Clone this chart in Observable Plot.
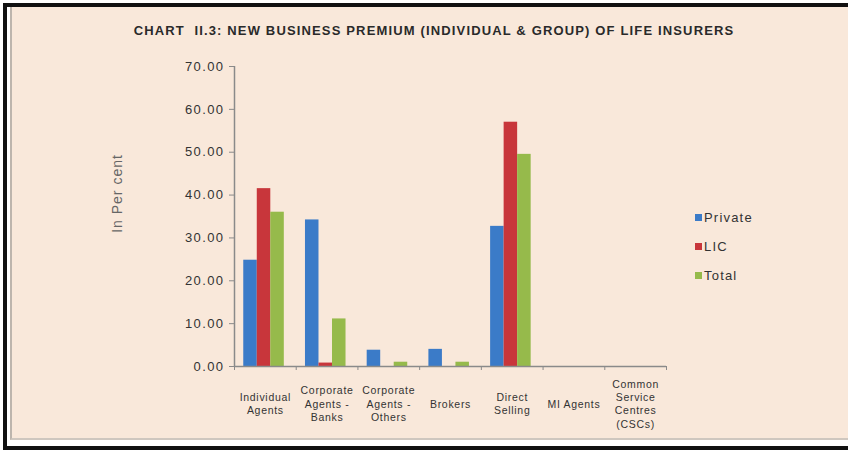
<!DOCTYPE html>
<html>
<head>
<meta charset="utf-8">
<script src="https://cdn.jsdelivr.net/npm/d3@7"></script>
<script src="https://cdn.jsdelivr.net/npm/@observablehq/plot@0.6"></script>
<style>
  html, body { margin: 0; padding: 0; background: #fff; }
  #wrap { position: relative; width: 848px; height: 452px; overflow: hidden; background: #fff;
          font-family: "Liberation Sans", Arial, sans-serif; }
  #frame { position: absolute; left: 3px; top: 3px; width: 870px; height: 439px;
           border: 4px solid #111; border-right: none; }
  #panel { position: absolute; left: 10px; top: 7px; width: 860px; height: 431px;
           background: #f9e8da; border-left: 2px solid #bdb5ad; border-bottom: 2px solid #cfc7bf; }
  #title { position: absolute; left: 0; top: 23px; width: 868px; text-align: center;
           font-weight: bold; font-size: 13px; line-height: 16px; color: #2a2a2a; letter-spacing: 1.15px; }
  #chart { position: absolute; left: 0; top: 0; }
  #legend { position: absolute; left: 695px; top: 203px; font-size: 13px; color: #333; letter-spacing: 1.2px; }
  #legend .item { display: flex; align-items: center; height: 29px; margin-top: 0; }
  #legend .sw { width: 7px; height: 7px; margin-right: 2px; }
  .ticklab text { letter-spacing: 1.4px; }
  .catlab text { letter-spacing: 0.7px; }
  .ylabel text { letter-spacing: 1px; }
</style>
</head>
<body>
<div id="wrap">
  <div id="frame"></div>
  <div id="panel"></div>
  <div id="title">CHART&nbsp; II.3: NEW BUSINESS PREMIUM (INDIVIDUAL &amp; GROUP) OF LIFE INSURERS</div>
  <div id="chart"></div>
  <div id="legend"></div>
</div>
<script>
// ---- data ----
const categories = [
  "Individual Agents",
  "Corporate Agents - Banks",
  "Corporate Agents - Others",
  "Brokers",
  "Direct Selling",
  "MI Agents",
  "Common Service Centres (CSCs)"
];
const categoryLabels = [
  "Individual\nAgents",
  "Corporate\nAgents -\nBanks",
  "Corporate\nAgents -\nOthers",
  "Brokers",
  "Direct\nSelling",
  "MI Agents",
  "Common\nService\nCentres\n(CSCs)"
];
const seriesNames = ["Private", "LIC", "Total"];
const privateShare = [24.8, 34.2, 3.8, 4.0, 32.7, 0, 0];
const licShare     = [41.5, 0.8, 0, 0, 57.0, 0, 0];
const totalShare   = [36.0, 11.1, 1.0, 1.0, 49.5, 0, 0];
const yTicks = [0, 10, 20, 30, 40, 50, 60, 70];
const seriesColors = ["#3b7bc8", "#c8363b", "#96ba4b"];

// ---- table ----
const seriesValues = [privateShare, licShare, totalShare];
const rows = [];
categories.forEach((c, ci) => {
  seriesNames.forEach((s, si) => {
    rows.push({category: c, ci, series: s, si, value: seriesValues[si][ci]});
  });
});

// group layout within each category slot (in category units)
const groupStart = 0.15, barSlot = 0.219;

const chart = Plot.plot({
  width: 848,
  height: 452,
  marginLeft: 234,
  marginRight: 182,
  marginTop: 66,
  marginBottom: 86,
  style: {background: "transparent", fontFamily: "'Liberation Sans', Arial, sans-serif"},
  x: {domain: [0, categories.length]},
  y: {domain: [0, 70]},
  color: {domain: seriesNames, range: seriesColors},
  marks: [
    Plot.rectY(rows, {
      x1: d => d.ci + groupStart + d.si * barSlot,
      x2: d => d.ci + groupStart + (d.si + 1) * barSlot,
      y1: 0,
      y2: "value",
      fill: "series"
    }),
    Plot.axisY({ticks: yTicks, tickSize: 5, tickFormat: () => "", label: null, stroke: "#8a8a8a"}),
    Plot.axisY({ticks: yTicks, tickSize: 0, tickPadding: 10, tickFormat: d3.format(".2f"), label: null,
                fontSize: 13, fill: "#333", className: "ticklab"}),
    Plot.axisX({ticks: d3.range(categories.length + 1), tickSize: 4, tickFormat: () => "", label: null, stroke: "#8a8a8a"}),
    Plot.ruleX([0], {y1: 0, y2: 70, stroke: "#8a8a8a", strokeWidth: 1.5}),
    Plot.ruleY([0], {x1: 0, x2: categories.length, stroke: "#8a8a8a", strokeWidth: 1.5}),
    Plot.text(categories, {
      x: (d, i) => i + 0.5,
      frameAnchor: "bottom",
      lineAnchor: "middle",
      dy: 37,
      text: (d, i) => categoryLabels[i],
      fontSize: 10.5,
      lineHeight: 1.27,
      fill: "#333",
      className: "catlab"
    }),
    Plot.text(["In Per cent"], {
      frameAnchor: "left",
      textAnchor: "middle",
      dx: -117,
      dy: -23,
      rotate: -90,
      fontSize: 14,
      fill: "#666",
      className: "ylabel"
    })
  ]
});
document.getElementById("chart").appendChild(chart);

// ---- legend ----
const legend = document.getElementById("legend");
seriesNames.forEach((s, i) => {
  const item = document.createElement("div");
  item.className = "item";
  const sw = document.createElement("span");
  sw.className = "sw";
  sw.style.background = seriesColors[i];
  const t = document.createElement("span");
  t.textContent = s;
  item.appendChild(sw);
  item.appendChild(t);
  legend.appendChild(item);
});
</script>
</body>
</html>
